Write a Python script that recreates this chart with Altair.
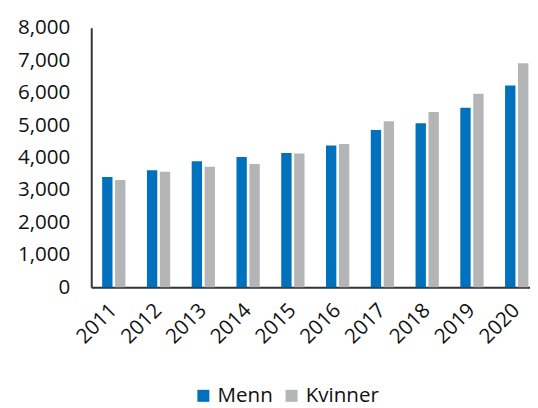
import altair as alt
import pandas as pd

years = ["2011", "2012", "2013", "2014", "2015", "2016", "2017", "2018", "2019", "2020"]
menn = [3400, 3610, 3885, 4015, 4145, 4375, 4850, 5060, 5535, 6220]
kvinner = [3310, 3560, 3715, 3805, 4125, 4415, 5120, 5405, 5965, 6905]
series = ["Menn", "Kvinner"]
colors = ["#0071BC", "#B4B5B7"]
y_ticks = [0, 1000, 2000, 3000, 4000, 5000, 6000, 7000, 8000]

rows = []
for i, y in enumerate(years):
    rows.append({"year": y, "kjonn": series[0], "value": menn[i]})
    rows.append({"year": y, "kjonn": series[1], "value": kvinner[i]})
df = pd.DataFrame(rows)

FONT = "Open Sans"
FS = 21

chart = alt.Chart(df).mark_bar().encode(
    x=alt.X("year:N", sort=years,
            scale=alt.Scale(paddingInner=0.48, paddingOuter=0.14, align=0.87),
            axis=alt.Axis(title=None, labelAngle=-45, labelAlign="right", labelBaseline="middle",
                          labelFontSize=FS, labelFont=FONT, labelColor="#111111",
                          ticks=False, labelPadding=20, domainColor="#333333", domainWidth=2)),
    xOffset=alt.XOffset("kjonn:N", sort=series, scale=alt.Scale(paddingInner=0.2)),
    y=alt.Y("value:Q", scale=alt.Scale(domain=[0, 8000], nice=False),
            axis=alt.Axis(title=None, values=y_ticks, format=",d", grid=False, ticks=False,
                          labelFontSize=FS, labelFont=FONT, labelColor="#111111",
                          labelPadding=22, domainColor="#333333", domainWidth=2)),
    color=alt.Color("kjonn:N", sort=series,
                    scale=alt.Scale(domain=series, range=colors),
                    legend=alt.Legend(title=None, orient="none", direction="horizontal",
                                      legendX=104, legendY=365, padding=0,
                                      symbolType="square", symbolSize=150, symbolStrokeWidth=0,
                                      labelFontSize=FS, labelFont=FONT, labelColor="#111111",
                                      columnPadding=8, labelOffset=4)),
).properties(
    width=448, height=265,
    padding={"left": 9, "top": 5, "right": 0, "bottom": 0},
).configure_view(stroke=None)

chart.save("out.html", embed_options={"renderer": "svg", "actions": False})
